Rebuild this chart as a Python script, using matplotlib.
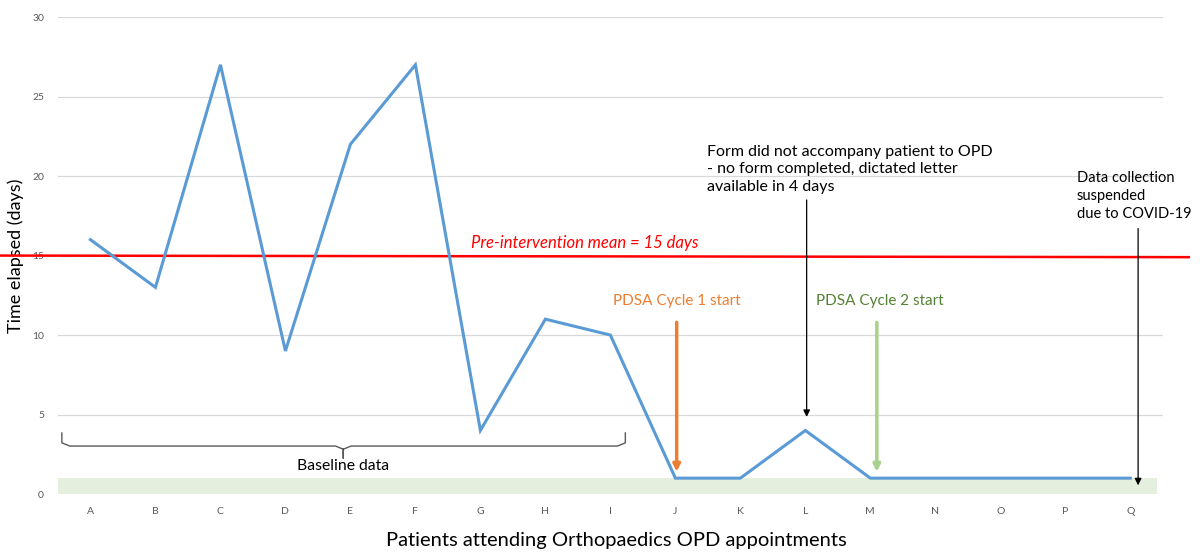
import numpy as np
import matplotlib
matplotlib.use('Agg')
import matplotlib.pyplot as plt

plt.rcParams['font.family'] = ['Lato', 'DejaVu Sans']

# Data
patients = ['A', 'B', 'C', 'D', 'E', 'F', 'G', 'H', 'I',
            'J', 'K', 'L', 'M', 'N', 'O', 'P', 'Q']
days = [16, 13, 27, 9, 22, 27, 4, 11, 10, 1, 1, 4, 1, 1, 1, 1, 1]
pre_mean = 15
target_band = [0, 1]
y_ticks = [0, 5, 10, 15, 20, 25, 30]

x = np.arange(len(patients))

fig = plt.figure(figsize=(12, 5.52), dpi=100)
ax = fig.add_axes([0.0483, 0.105, 0.9207, 0.864])

# gridlines
for t in y_ticks[1:]:
    ax.axhline(t, color='#D9D9D9', linewidth=0.9, zorder=0)

# green target band
ax.axhspan(target_band[0], target_band[1], xmin=-0.004, xmax=0.995,
           color='#E2EFDA', alpha=0.9, zorder=1, linewidth=0)

# pre-intervention mean (extends past the plot area)
ax.plot([-1.39, 16.9], [pre_mean, pre_mean - 0.1], color='#FF0000',
        linewidth=1.8, clip_on=False, zorder=3)
ax.text(7.6, pre_mean + 0.3, 'Pre-intervention mean = 15 days',
        color='#FF0000', fontstyle='italic', fontsize=12,
        ha='center', va='bottom')

# main series
ax.plot(x, days, color='#5B9BD5', linewidth=2.2, zorder=4,
        solid_joinstyle='miter')

# brace for baseline data
bx0, bx1, bmid = -0.44, 8.23, 3.89
by, btop, btip = 3.02, 3.84, 2.26
r = 0.12
brace_x = [bx0, bx0, bx0 + r, bmid - r, bmid, bmid, bmid, bmid + r, bx1 - r, bx1, bx1]
brace_y = [btop, by + 0.2, by, by, by - 0.2, btip, by - 0.2, by, by, by + 0.2, btop]
ax.plot(brace_x, brace_y, color='#595959', linewidth=1.0, zorder=3)
ax.text(bmid, 1.75, 'Baseline data', fontsize=11.3, ha='center',
        va='center', color='#000000')

# PDSA arrows
arrow_kw = dict(arrowstyle='-|>', mutation_scale=10, shrinkA=0, shrinkB=0)
ax.annotate('', xy=(9.02, 1.4), xytext=(9.02, 10.8),
            arrowprops=dict(color='#ED7D31', linewidth=2.5, **arrow_kw))
ax.text(9.02, 11.7, 'PDSA Cycle 1 start', color='#ED7D31', fontsize=11,
        ha='center', va='bottom')
ax.annotate('', xy=(12.1, 1.4), xytext=(12.1, 10.8),
            arrowprops=dict(color='#A9D18E', linewidth=2.5, **arrow_kw))
ax.text(12.15, 11.7, 'PDSA Cycle 2 start', color='#548235', fontsize=11,
        ha='center', va='bottom')

# black note arrows
ax.annotate('', xy=(11.02, 4.85), xytext=(11.02, 18.5),
            arrowprops=dict(color='#000000', linewidth=0.9, **arrow_kw))
ax.text(9.48, 18.9,
        'Form did not accompany patient to OPD\n- no form completed, dictated letter\navailable in 4 days',
        fontsize=11.5, ha='left', va='bottom', linespacing=1.3)
ax.annotate('', xy=(16.12, 0.55), xytext=(16.12, 16.7),
            arrowprops=dict(color='#000000', linewidth=0.9, **arrow_kw))
ax.text(15.18, 17.2, 'Data collection\nsuspended\ndue to COVID-19',
        fontsize=10.5, ha='left', va='bottom', linespacing=1.35)

ax.set_xlim(-0.5, 16.5)
ax.set_ylim(0, 30)
ax.set_xticks(x)
ax.set_xticklabels(patients)
ax.set_yticks(y_ticks)
ax.tick_params(axis='both', length=0, labelsize=7.5, labelcolor='#595959')
ax.tick_params(axis='x', pad=9)
ax.tick_params(axis='y', pad=10)
for s in ax.spines.values():
    s.set_visible(False)

ax.set_ylabel('Time elapsed (days)', fontsize=13, labelpad=6)
fig.text(0.514, 0.005, 'Patients attending Orthopaedics OPD appointments',
         fontsize=14.5, ha='center', va='bottom')

fig.savefig('out.png', dpi=100)
